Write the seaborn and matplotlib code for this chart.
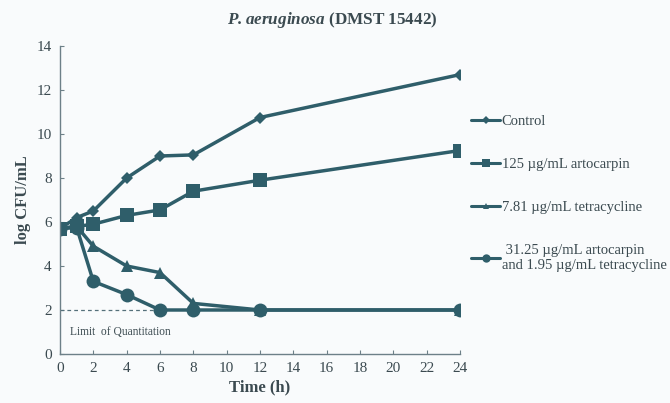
import numpy as np
import pandas as pd
import matplotlib
matplotlib.use("Agg")
import matplotlib.pyplot as plt
import seaborn as sns
from matplotlib.lines import Line2D

time_h = [0, 1, 2, 4, 6, 8, 12, 24]
control = [5.7, 6.2, 6.5, 8.0, 9.0, 9.05, 10.75, 12.7]
artocarpin_125 = [5.7, 5.8, 5.9, 6.3, 6.55, 7.4, 7.9, 9.25]
tetracycline_781 = [5.7, 5.8, 4.9, 4.0, 3.7, 2.3, 2.0, 2.0]
combination = [5.7, 5.75, 3.3, 2.7, 2.0, 2.0, 2.0, 2.0]
series_names = ["Control", "125 \u00b5g/mL artocarpin", "7.81 \u00b5g/mL tetracycline",
                " 31.25 \u00b5g/mL artocarpin\nand 1.95 \u00b5g/mL tetracycline"]
limit_q = 2.0

sns.set_theme(style="ticks")
plt.rcParams['font.family'] = ['Liberation Serif', 'DejaVu Serif']
plt.rcParams['mathtext.fontset'] = 'custom'
plt.rcParams['mathtext.bfit'] = 'Liberation Serif:bold:italic'

line_c = "#2f5e6a"
text_c = "#3b4a50"
bg = "#f9fbfc"

df = pd.concat([
    pd.DataFrame({"time": time_h, "val": v, "series": n})
    for v, n in zip([control, artocarpin_125, tetracycline_781, combination], series_names)
])

fig = plt.figure(figsize=(6.7, 4.03), dpi=100)
fig.patch.set_facecolor(bg)
ax = fig.add_axes([60/670, 1-354/403, 400/670, 308/403])
ax.set_facecolor(bg)

markers = dict(zip(series_names, ["D", "s", "^", "o"]))
sizes_m = dict(zip(series_names, [6, 10, 9, 10]))
sns.lineplot(data=df, x="time", y="val", hue="series", style="series",
             palette=[line_c]*4, markers=markers, dashes=False, ax=ax,
             linewidth=2.5, markersize=8, markeredgewidth=0, legend=False)
for line, n in zip(ax.lines, series_names):
    line.set_markersize(sizes_m[n])

ax.plot([0, 6], [limit_q, limit_q], ls=(0, (3, 2.5)), color="#54707a", lw=0.9, zorder=1)
ax.text(0.6, 1.0, "Limit  of Quantitation", fontsize=8.3, color=text_c, va="center")

ax.set_xlim(0, 24)
ax.set_ylim(0, 14)
ax.set_xticks(range(0, 25, 2))
ax.set_yticks(range(0, 15, 2))
ax.tick_params(direction="in", length=3, width=0.8, colors="#6d8088", labelcolor=text_c,
               labelsize=11, pad=6)
for s in ["top", "right"]:
    ax.spines[s].set_visible(False)
for s in ["left", "bottom"]:
    ax.spines[s].set_color("#6d8088")
    ax.spines[s].set_linewidth(1.0)

ax.set_xlabel("Time (h)", fontsize=12, fontweight="bold", color=text_c, labelpad=3)
ax.set_ylabel("log CFU/mL", fontsize=12, fontweight="bold", color=text_c, labelpad=4)
fig.text(332/670, 1-20/403, r"$\mathbfit{P. aeruginosa}$ (DMST 15442)", fontsize=12.3,
         fontweight="bold", color=text_c, ha="center", va="center")

handles = [Line2D([], [], color=line_c, lw=2.2, marker=markers[n], markersize=ms, markeredgewidth=0)
           for n, ms in zip(series_names, [4, 6, 5, 6])]
leg = fig.legend(handles, series_names, loc="upper left", bbox_to_anchor=(471/670, 1-115/403),
                 frameon=False, fontsize=10.5, handlelength=2.0, handletextpad=0.1,
                 labelspacing=2.05, borderpad=0, borderaxespad=0)
for t in leg.get_texts():
    t.set_color(text_c)

fig.savefig("out.png", dpi=100, facecolor=fig.get_facecolor())
